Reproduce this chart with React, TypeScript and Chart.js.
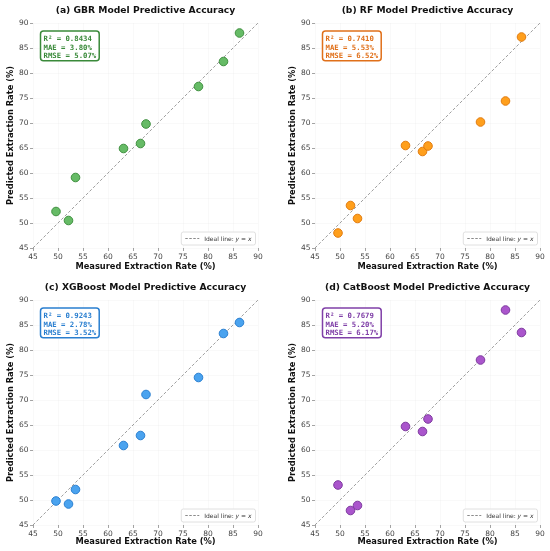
import { useEffect, useRef } from "react"
import { Chart, registerables } from "chart.js"

Chart.register(...registerables)

// measured extraction rate (%) is shared by all four models
const measured = [49.6, 52.1, 53.5, 63.1, 66.5, 67.6, 78.1, 83.1, 86.3]
const gbrPredicted = [52.3, 50.5, 59.1, 64.9, 65.9, 69.8, 77.3, 82.3, 88.0]
const rfPredicted = [48.0, 53.5, 50.9, 65.5, 64.3, 65.4, 70.2, 74.4, 87.2]
const xgbPredicted = [49.8, 49.2, 52.1, 60.9, 62.9, 71.1, 74.5, 83.3, 85.5]
const catPredicted = [53.0, 47.9, 48.9, 64.7, 63.7, 66.2, 78.0, 88.0, 83.5]

const axisMin = 45
const axisMax = 90
const axisStep = 5

const gbrMetrics = ["R² = 0.8434", "MAE = 3.80%", "RMSE = 5.07%"]
const rfMetrics = ["R² = 0.7410", "MAE = 5.53%", "RMSE = 6.52%"]
const xgbMetrics = ["R² = 0.9243", "MAE = 2.78%", "RMSE = 3.52%"]
const catMetrics = ["R² = 0.7679", "MAE = 5.20%", "RMSE = 6.17%"]

const FONT = '"DejaVu Sans", sans-serif'
const MONO = '"DejaVu Sans Mono", monospace'

type PanelProps = {
  title: string
  predicted: number[]
  metrics: string[]
  fill: string
  edge: string
  textColor: string
  width: number
  height: number
  yWidth: number
  rightPad: number
  titlePadTop: number
  titlePadBottom: number
  xHeight: number
  yTitlePad: number
  xTitlePad: number
}

function Panel(p: PanelProps) {
  const chartRef = useRef<HTMLCanvasElement>(null)
  const chartInstance = useRef<Chart | null>(null)

  useEffect(() => {
    if (!chartRef.current) return
    if (chartInstance.current) chartInstance.current.destroy()
    const ctx = chartRef.current.getContext("2d")
    if (!ctx) return

    // stats box (top-left) and legend (bottom-right), drawn inside the plot area
    const overlay = {
      id: "overlay",
      afterDraw(chart: Chart) {
        const c = chart.ctx
        const area = chart.chartArea
        c.save()

        // metrics box
        c.font = `bold 7.3px ${MONO}`
        const lineH = 8.6
        const pad = 3
        const w = Math.max(...p.metrics.map((m) => c.measureText(m).width)) + pad * 2
        const h = p.metrics.length * lineH + pad + 1
        const bx = area.left + 7.5
        const by = area.top + 8
        c.beginPath()
        c.roundRect(bx, by, w, h, 3)
        c.fillStyle = "rgba(255,255,255,0.9)"
        c.fill()
        c.lineWidth = 1.5
        c.strokeStyle = p.textColor
        c.stroke()
        c.fillStyle = p.textColor
        c.textBaseline = "middle"
        c.textAlign = "left"
        p.metrics.forEach((m, i) => {
          c.fillText(m, bx + pad, by + pad + 1 + lineH * (i + 0.5))
        })

        // legend
        const parts: [string, boolean][] = [
          ["Ideal line: ", false],
          ["y", true],
          [" = ", false],
          ["x", true],
        ]
        const fs = 6
        const widths = parts.map(([t, it]) => {
          c.font = `${it ? "italic " : ""}${fs}px ${FONT}`
          return c.measureText(t).width
        })
        const textW = widths.reduce((a, b) => a + b, 0)
        const sample = 14
        const lw = 4 + sample + 5 + textW + 4
        const lh = 13
        const lx = area.right - 2.5 - lw
        const ly = area.bottom - 3 - lh
        c.beginPath()
        c.roundRect(lx, ly, lw, lh, 2)
        c.fillStyle = "rgba(255,255,255,0.85)"
        c.fill()
        c.lineWidth = 0.8
        c.strokeStyle = "#d8d8d8"
        c.stroke()
        c.beginPath()
        c.setLineDash([2.5, 1.5])
        c.lineWidth = 1
        c.strokeStyle = "rgba(110,110,110,0.8)"
        c.moveTo(lx + 4, ly + lh / 2)
        c.lineTo(lx + 4 + sample, ly + lh / 2)
        c.stroke()
        c.setLineDash([])
        c.fillStyle = "#333"
        let tx = lx + 4 + sample + 5
        parts.forEach(([t, it], i) => {
          c.font = `${it ? "italic " : ""}${fs}px ${FONT}`
          c.fillText(t, tx, ly + lh / 2 + 0.5)
          tx += widths[i]
        })
        c.restore()
      },
    }

    const axis = (titleText: string, pos: "x" | "y") => ({
      type: "linear" as const,
      min: axisMin,
      max: axisMax,
      border: { display: false },
      grid: {
        color: "rgba(0,0,0,0.045)",
        lineWidth: 0.6,
        tickColor: "#666",
        tickLength: 3,
        tickWidth: 0.6,
      },
      ticks: {
        stepSize: axisStep,
        color: "#444",
        padding: 1.5,
        font: { family: FONT, size: 7.5 },
      },
      title: {
        display: true,
        text: titleText,
        color: "#111",
        font: { family: FONT, size: 8.3, weight: "bold" as const },
        padding: pos === "y" ? { top: p.yTitlePad, bottom: 0 } : { top: 0, bottom: p.xTitlePad },
      },
      afterFit: (scale: any) => {
        if (pos === "y") scale.width = p.yWidth
        else scale.height = p.xHeight
      },
    })

    chartInstance.current = new Chart(ctx, {
      type: "scatter",
      data: {
        datasets: [
          {
            label: "Predictions",
            data: measured.map((m, i) => ({ x: m, y: p.predicted[i] })),
            backgroundColor: p.fill,
            borderColor: p.edge,
            borderWidth: 1,
            pointRadius: 4.3,
          },
          {
            type: "line",
            label: "Ideal line: y = x",
            data: [
              { x: axisMin, y: axisMin },
              { x: axisMax, y: axisMax },
            ],
            borderColor: "rgba(110,110,110,0.75)",
            borderWidth: 0.9,
            borderDash: [3, 2],
            pointRadius: 0,
            fill: false,
          },
        ],
      },
      options: {
        responsive: true,
        maintainAspectRatio: false,
        animation: false,
        layout: { padding: { left: 0, right: p.rightPad, top: 0, bottom: 0 } },
        scales: {
          x: axis("Measured Extraction Rate (%)", "x"),
          y: axis("Predicted Extraction Rate (%)", "y"),
        },
        plugins: {
          legend: { display: false },
          tooltip: { enabled: false },
          title: {
            display: true,
            fullSize: false,
            text: p.title,
            color: "#111",
            font: { family: FONT, size: 9.2, weight: "bold", lineHeight: 1.2 },
            padding: { top: p.titlePadTop, bottom: p.titlePadBottom },
          },
        },
      },
      plugins: [overlay],
    })

    return () => {
      if (chartInstance.current) {
        chartInstance.current.destroy()
        chartInstance.current = null
      }
    }
  }, [])

  return (
    <div style={{ position: "relative", width: p.width, height: p.height }}>
      <canvas ref={chartRef} />
    </div>
  )
}

export default function App() {
  useEffect(() => {
    document.body.style.margin = "0"
    document.body.style.background = "#fff"
  }, [])

  const top = { height: 275, titlePadTop: 5, titlePadBottom: 23 - 11.04 - 5, xHeight: 27, xTitlePad: 3.5 }
  const bottom = { height: 276, titlePadTop: 7, titlePadBottom: 25 - 11.04 - 7, xHeight: 26, xTitlePad: 4.5 }
  const left = { width: 275, yWidth: 33, rightPad: 17, yTitlePad: 6 }
  const right = { width: 275, yWidth: 40, rightPad: 10, yTitlePad: 12.5 }

  return (
    <div style={{ width: 550, height: 551, display: "grid", gridTemplateColumns: "275px 275px", background: "#fff" }}>
      <Panel
        title="(a) GBR Model Predictive Accuracy"
        predicted={gbrPredicted}
        metrics={gbrMetrics}
        fill="#66bb66"
        edge="#3f8f3f"
        textColor="#3a8a3a"
        {...top}
        {...left}
      />
      <Panel
        title="(b) RF Model Predictive Accuracy"
        predicted={rfPredicted}
        metrics={rfMetrics}
        fill="#ff9f1c"
        edge="#e07b10"
        textColor="#e0701a"
        {...top}
        {...right}
      />
      <Panel
        title="(c) XGBoost Model Predictive Accuracy"
        predicted={xgbPredicted}
        metrics={xgbMetrics}
        fill="#4aa3ef"
        edge="#2a7fd0"
        textColor="#2a7fd0"
        {...bottom}
        {...left}
      />
      <Panel
        title="(d) CatBoost Model Predictive Accuracy"
        predicted={catPredicted}
        metrics={catMetrics}
        fill="#aa55cc"
        edge="#7d3a9e"
        textColor="#8040a8"
        {...bottom}
        {...right}
      />
    </div>
  )
}
